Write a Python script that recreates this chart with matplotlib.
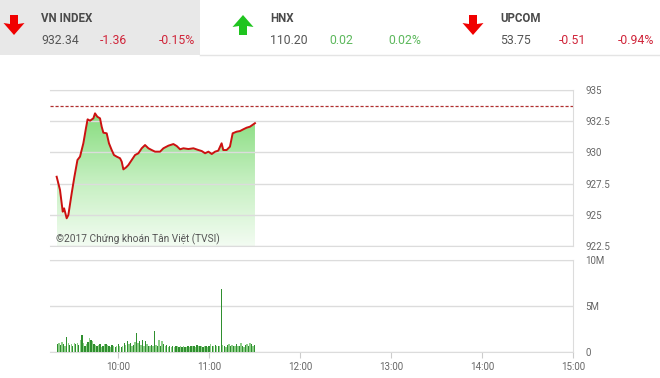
import numpy as np
import matplotlib
matplotlib.use("Agg")
import matplotlib.pyplot as plt
from matplotlib.colors import LinearSegmentedColormap
from matplotlib.patches import Polygon, Rectangle

plt.rcParams['font.family'] = ['Roboto', 'DejaVu Sans']

# header quotes
names = ["VN INDEX", "HNX", "UPCOM"]
last = ["932.34", "110.20", "53.75"]
change = ["-1.36", "0.02", "-0.51"]
pct = ["-0.15%", "0.02%", "-0.94%"]
up = [False, True, False]

# intraday price (minutes after 9:00)
price_min = [19.4, 21.6, 23.4, 24.3, 26.0, 27.1, 29.3, 31.1, 33.1, 34.8, 37.0, 38.7,
             39.8, 41.4, 43.6, 44.7, 46.2, 48.0, 49.1, 50.2, 52.4, 53.9, 55.7, 57.2,
             59.0, 61.2, 62.3, 63.4, 65.2, 66.7, 68.9, 71.1, 73.3, 75.5, 77.7, 79.9,
             82.1, 84.3, 87.6, 89.8, 93.1, 96.4, 98.6, 100.8, 103.0, 106.3, 109.6,
             112.9, 115.1, 117.3, 119.5, 121.7, 123.9, 126.0, 128.2, 129.3, 131.5,
             133.7, 135.5, 138.1, 140.3, 142.5, 144.7, 146.9, 150.2]
price = [928.05, 926.99, 925.25, 925.52, 924.72, 924.98, 926.72, 928.05, 929.39, 929.66,
         930.73, 931.93, 932.65, 932.54, 932.73, 933.13, 932.86, 932.73, 932.06, 931.58,
         931.53, 930.73, 930.19, 929.79, 929.66, 929.53, 929.26, 928.64, 928.80, 928.99,
         929.39, 929.79, 929.93, 930.33, 930.59, 930.33, 930.19, 930.06, 930.06, 930.33,
         930.54, 930.67, 930.51, 930.25, 930.33, 930.27, 930.33, 930.19, 930.11, 929.93,
         930.06, 929.87, 930.06, 930.14, 930.73, 930.19, 930.19, 930.46, 931.53, 931.66,
         931.71, 931.85, 931.98, 932.06, 932.34]
ref_close = 933.70

# volume per minute from 9:20 (millions)
vol_start = 20
volume = [0.9, 1.0, 0.8, 1.1, 0.9, 0.7, 1.6, 1.0, 0.8, 0.9, 0.7, 1.0, 0.9, 1.0, 0.8, 1.3,
          1.9, 1.0, 0.7, 0.9, 1.1, 1.55, 1.3, 1.2, 0.9, 0.8, 0.7, 0.8, 0.9, 0.5, 0.6, 0.9,
          0.9, 0.8, 0.6, 0.5, 0.8, 0.6, 0.5, 0.7, 0.9, 0.6, 0.5, 0.7, 1.0, 0.8, 1.2, 0.9,
          1.0, 0.7, 0.8, 1.1, 2.1, 1.0, 1.2, 0.8, 1.3, 0.6, 1.2, 0.9, 0.7, 0.6, 0.8, 0.7,
          2.3, 0.8, 0.6, 1.3, 0.7, 1.2, 0.9, 0.6, 0.8, 0.5, 0.6, 0.5, 0.7, 0.5, 0.6, 0.6,
          0.5, 0.7, 0.5, 0.6, 0.5, 0.5, 0.6, 0.5, 0.7, 0.6, 0.7, 0.5, 0.8, 0.6, 0.7, 0.6,
          0.5, 0.7, 0.6, 0.5, 0.7, 0.9, 0.6, 0.7, 0.8, 0.6, 0.7, 0.7, 6.9, 0.8, 0.7, 0.5,
          0.8, 0.9, 0.6, 0.8, 0.7, 0.6, 0.9, 0.7, 0.6, 1.0, 0.7, 0.5, 0.8, 0.9, 0.6, 1.0,
          0.9, 0.7, 0.8]

price_ticks = [922.5, 925, 927.5, 930, 932.5, 935]
vol_ticks = [0, 5, 10]
vol_labels = ["0", "5M", "10M"]
time_ticks = [60, 120, 180, 240, 300, 360]
time_labels = ["10:00", "11:00", "12:00", "13:00", "14:00", "15:00"]

W, H = 660, 378
fig = plt.figure(figsize=(6.6, 3.78), dpi=100)

# header in pixel coordinates
hd = fig.add_axes([0, 0, 1, 1])
hd.set_xlim(0, W)
hd.set_ylim(H, 0)
hd.axis('off')
hd.add_patch(Rectangle((0, 0), 200, 55, color='#e8e8e8', lw=0))
hd.plot([200, W], [55, 55], color='#e4e4e4', lw=1)

red, green = '#d0253a', '#5cb85c'
col_x = [41, 270, 500]
arrow_x = [14, 243, 473]
for i in range(3):
    x0 = col_x[i]
    c = green if up[i] else red
    hd.text(x0, 18, names[i], fontsize=8.3, fontweight='bold', color='#4a4a4a', va='center')
    hd.text(x0, 41, last[i], fontsize=8.8, color='#555555', va='center')
    hd.text(x0 + 59, 41, change[i], fontsize=8.8, color=c, va='center')
    hd.text(x0 + 118, 41, pct[i], fontsize=8.8, color=c, va='center')
    ax_ = arrow_x[i]
    s = -1 if up[i] else 1
    cy = 25
    pts = [(ax_ - 4, cy - 10 * s), (ax_ + 4, cy - 10 * s), (ax_ + 4, cy - 1 * s),
           (ax_ + 10.5, cy - 2 * s), (ax_, cy + 10 * s), (ax_ - 10.5, cy - 2 * s),
           (ax_ - 4, cy - 1 * s)]
    arr_col = '#1fc41f' if up[i] else '#f00000'
    hd.add_patch(Polygon(pts, closed=True, color=arr_col, lw=0))

grid_c = '#dcdcdc'
lab_c = '#666666'

# price panel
ax = fig.add_axes([50 / W, 1 - 246 / H, 523 / W, 156 / H])
ax.set_facecolor('none')
fill = ax.fill_between(price_min, price, 922.5, color='none', lw=0)
grad = np.linspace(0, 1, 256).reshape(-1, 1)
cmap = LinearSegmentedColormap.from_list('g', ['#f3fcf2', '#c4efbf', '#86dc7e'])
im = ax.imshow(grad, aspect='auto', cmap=cmap, origin='lower',
               extent=[price_min[0], price_min[-1], 922.5, max(price)], zorder=1)
im.set_clip_path(fill.get_paths()[0], transform=ax.transData)
ax.plot(price_min, price, color='#cc1111', lw=1.4, zorder=3)
ax.axhline(ref_close, color='#b03030', lw=0.9, ls=(0, (2.5, 1.5)), zorder=2)
ax.set_xlim(15, 360)
ax.set_ylim(922.5, 935)
ax.set_yticks(price_ticks)
ax.set_yticklabels([f"{v:g}" for v in price_ticks])
ax.yaxis.tick_right()
ax.tick_params(axis='y', length=0, pad=9, labelsize=7, labelcolor=lab_c)
ax.set_xticks([])
ax.grid(axis='y', color=grid_c, lw=1, zorder=0)
for sp in ['top', 'right', 'bottom']:
    ax.spines[sp].set_color(grid_c)
ax.spines['left'].set_visible(False)
ax.text(0.012, 0.045, "©2017 Chứng khoán Tân Việt (TVSI)", transform=ax.transAxes,
        fontsize=7.3, color='#555555', va='center', zorder=4)

# volume panel
vx = fig.add_axes([50 / W, 1 - 352 / H, 523 / W, 92 / H])
vmin = np.arange(vol_start, vol_start + len(volume))
bar_cols = ['#2f8f2f' if i % 2 == 0 else '#8fcf8a' for i in range(len(volume))]
vx.bar(vmin, volume, width=0.9, color=bar_cols, lw=0, zorder=3)
vx.set_xlim(15, 360)
vx.set_ylim(0, 10)
vx.set_yticks(vol_ticks)
vx.set_yticklabels(vol_labels)
vx.yaxis.tick_right()
vx.tick_params(axis='y', length=0, pad=9, labelsize=7, labelcolor=lab_c)
vx.set_xticks(time_ticks)
vx.set_xticklabels(time_labels)
vx.tick_params(axis='x', length=4, width=0.8, color='#cccccc', pad=3,
               labelsize=7, labelcolor=lab_c)
vx.grid(axis='y', color=grid_c, lw=1, zorder=0)
for sp in ['top', 'right', 'bottom']:
    vx.spines[sp].set_color(grid_c)
vx.spines['left'].set_visible(False)

fig.savefig("out.png", dpi=100)
